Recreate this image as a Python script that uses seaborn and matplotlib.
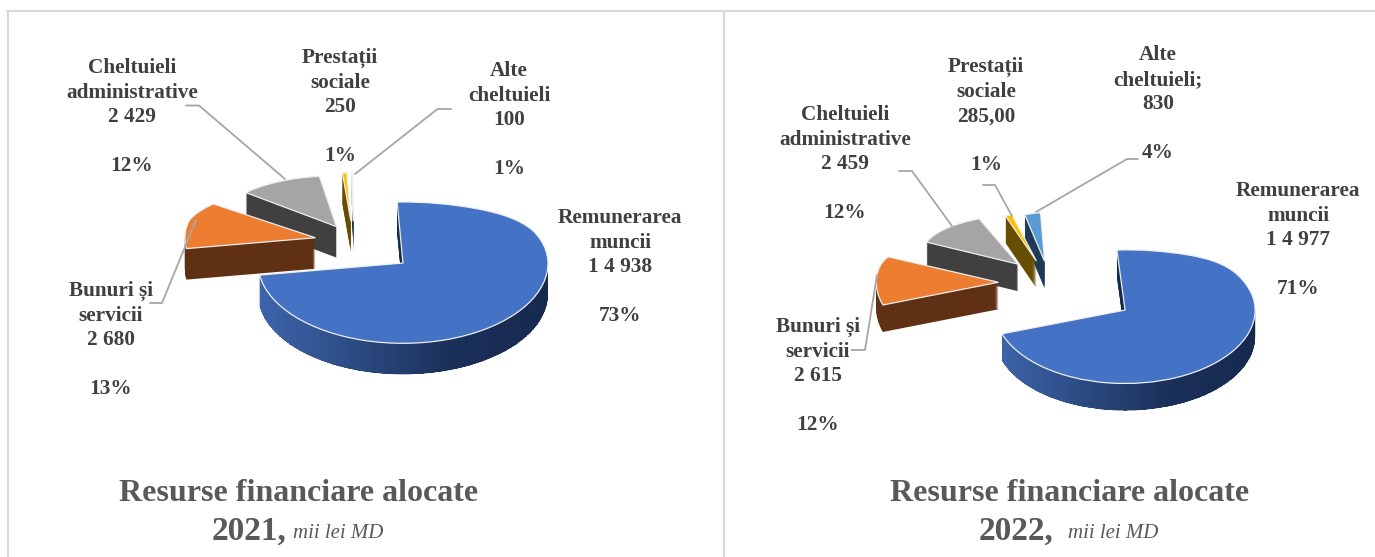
import numpy as np
import matplotlib
matplotlib.use("Agg")
import matplotlib.pyplot as plt
from matplotlib.lines import Line2D
from matplotlib.path import Path
from matplotlib.transforms import Affine2D, IdentityTransform
import seaborn as sns

# Data
values_2021 = [14938, 2680, 2429, 250, 100]
values_2022 = [14977, 2615, 2459, 285, 830]

labels_2021 = [
    ["Remunerarea", "muncii", "1 4 938", "", "73%"],
    ["Bunuri și", "servicii", "2 680", "", "13%"],
    ["Cheltuieli", "administrative", "2 429", "", "12%"],
    ["Prestații", "sociale", "250", "", "1%"],
    ["Alte", "cheltuieli", "100", "", "1%"],
]
labels_2022 = [
    ["Remunerarea", "muncii", "1 4 977", "", "71%"],
    ["Bunuri și", "servicii", "2 615", "", "12%"],
    ["Cheltuieli", "administrative", "2 459", "", "12%"],
    ["Prestații", "sociale", "285,00", "", "1%"],
    ["Alte", "cheltuieli;", "830", "", "4%"],
]
title_main = "Resurse financiare alocate"
unit_label = "mii lei MD"

W, H = 1375, 557
TEXT = "#404040"
TITLE = "#595959"
LEADER = "#a6a6a6"

sns.set_theme(style="white")
plt.rcParams["font.family"] = ["Liberation Serif", "DejaVu Serif"]

top_colors = sns.color_palette(["#4472c4", "#ed7d31", "#a5a5a5", "#ffc000", "#5b9bd5"])
side_colors = ["#16294f", "#5f3013", "#404040", "#664d00", "#1f3a57"]
blue_side = sns.blend_palette(["#3d64ab", "#2c4b82", "#1a2f59", "#162a50"], as_cmap=True)

fig = plt.figure(figsize=(W / 100, H / 100), dpi=100)


def px_line(xs, ys, **kw):
    fig.add_artist(Line2D([x / W for x in xs], [1 - y / H for y in ys],
                          transform=fig.transFigure, **kw))


def draw_pie(values, box, cx, rx, depth, startangle, explode, squeeze, yy, pp):
    # box is the pixel span of the axes; yy/pp squeeze the far side of the pie
    yy = np.array(yy)
    pp = np.array(pp)
    ax = fig.add_axes([box[0] / W, 1 - pp[0] / H, (box[1] - box[0]) / W, (pp[0] - pp[-1]) / H])

    n = len(values)

    def slice_transform(w, i, drop=0):
        # narrower slices toward the back, kept on their own tip
        x0 = w.center[0]
        return (Affine2D().translate(-x0, 0).scale(squeeze[i], 1).translate(x0, 0)
                + ax.transData + Affine2D().translate(0, -drop))

    # side walls, pushed down pixel by pixel
    for k in range(depth, 0, -1):
        walls, _ = ax.pie(values, explode=explode, colors=side_colors, startangle=startangle,
                          counterclock=False, wedgeprops={"linewidth": 0, "clip_on": False})
        for i, w in enumerate(walls):
            w.set_transform(slice_transform(w, i, k))
            w.set_zorder(10 * (n - i))
    tops, _ = ax.pie(values, explode=explode, colors=top_colors, startangle=startangle,
                     counterclock=False,
                     wedgeprops={"linewidth": 0.9, "edgecolor": "#eeeeee", "clip_on": False})
    for i, w in enumerate(tops):
        w.set_transform(slice_transform(w, i))
        w.set_zorder(10 * (n - i) + 5)

    ax.set_aspect("auto")
    ax.set_yscale("function", functions=(lambda v: np.interp(v, yy, -pp),
                                         lambda v: np.interp(v, -pp, yy)))
    ax.set_xlim((box[0] - cx) / rx, (box[1] - cx) / rx)
    ax.set_ylim(yy[0], yy[-1])
    ax.axis("off")

    # shaded front wall of the big slice
    big = tops[0]
    th = np.radians(np.linspace(big.theta1, 0, 300))
    arc = ax.transData.transform(np.c_[big.center[0] + np.cos(th), big.center[1] + np.sin(th)])
    low = arc[::-1] - [0, depth]
    poly = Path(np.r_[arc, low, arc[:1]])
    x_edges = np.linspace(big.center[0] - 1, big.center[0] + 1, 129)
    shade = ax.pcolormesh(x_edges, [yy[0], yy[-1]], np.linspace(0, 1, 128)[None, :],
                          cmap=blue_side, zorder=10 * n + 2, shading="flat")
    shade.set_clip_path(poly, IdentityTransform())
    return ax


draw_pie(values_2021, (10, 720), 356, 145, 31, 92.3, [0.42, 0.29, 0.27, 0.32, 0.32],
         [1, 0.9, 0.8, 0.4, 0.15],
         [-2.0, -1.45, -0.267, 0, 0.3, 0.72, 0.85, 1.25, 1.45],
         [402, 358, 263, 243, 222, 203, 193, 175, 168])
draw_pie(values_2022, (730, 1370), 1053, 130, 27, 93.6, [0.667, 0.42, 0.39, 0.37, 0.35],
         [1, 0.94, 0.78, 0.62, 0.5],
         [-2.0, -1.5, -0.37, 0, 0.3, 0.63, 0.75, 1.0, 1.45],
         [430, 393, 310, 284, 263, 250, 239, 228, 208])

# frame of the two panels
for xs, ys in [([7, 1375], [11, 11]), ([8, 8], [11, 557]), ([724, 724], [11, 557])]:
    px_line(xs, ys, color="#d9d9d9", lw=1.5)

# leader lines
for xs, ys in [([186, 199, 285], [105.5, 105.5, 179]),
               ([451, 437.5, 355], [109, 109, 174]),
               ([150, 162, 196], [303, 303, 220]),
               ([899, 912, 952], [171, 171, 226]),
               ([983, 995, 1012], [185, 185, 216]),
               ([1138, 1127, 1036], [159, 159, 212]),
               ([851.5, 865, 877], [350, 350, 275])]:
    px_line(xs, ys, color=LEADER, lw=1.3)


def px_text(x, y, s, **kw):
    fig.text(x / W, 1 - y / H, s, **kw)


# first line baseline of each label block
anchors_2021 = [(620, 223), (111, 296), (132, 73), (340, 63), (509, 76)]
anchors_2022 = [(1298, 196), (818, 332), (845, 120), (986, 72), (1158, 60)]
for labels, anchors in [(labels_2021, anchors_2021), (labels_2022, anchors_2022)]:
    for lines, (x, y) in zip(labels, anchors):
        for j, line in enumerate(lines):
            px_text(x, y + 24.6 * j, line, ha="center", va="baseline", color=TEXT,
                    fontsize=15.3, fontweight="bold")

# titles under the pies
for cx, year, yx, ux in [(299, "2021,", 249, 293), (1070, "2022,", 1016, 1068)]:
    px_text(cx, 501, title_main, ha="center", va="baseline", color=TITLE,
            fontsize=23, fontweight="bold")
    px_text(yx, 540, year, ha="center", va="baseline", color=TITLE,
            fontsize=24, fontweight="bold")
    px_text(ux, 538, unit_label, ha="left", va="baseline", color=TITLE,
            fontsize=15, fontstyle="italic")

fig.savefig("out.png", dpi=100, facecolor="white")
plt.close(fig)
